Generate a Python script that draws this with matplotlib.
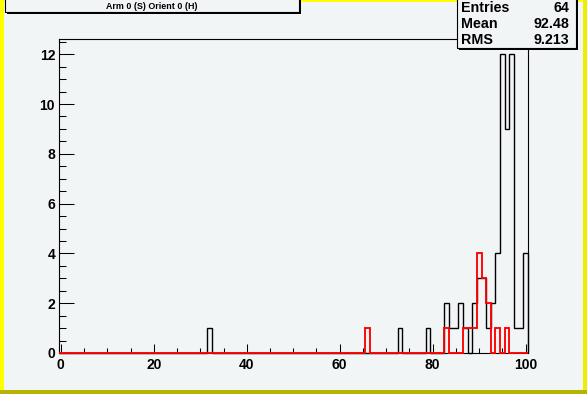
import numpy as np
import matplotlib
matplotlib.use("Agg")
import matplotlib.pyplot as plt
from matplotlib.patches import Rectangle
from matplotlib.ticker import FixedLocator, MultipleLocator

# ---------------- data ----------------
hist_lo = -0.5
hist_hi = 100.5
n_bins = 101
black_bins = [32, 73, 79, 83, 84, 85, 86, 87, 89, 90, 91, 92, 93, 94, 95, 96, 97, 98, 99, 100]
black_counts = [1, 1, 1, 2, 1, 1, 2, 1, 2, 3, 3, 1, 2, 4, 12, 9, 12, 1, 1, 4]
red_bins = [66, 83, 87, 88, 89, 90, 91, 92, 94, 96]
red_counts = [1, 1, 1, 1, 1, 4, 3, 2, 1, 1]
title_text = "Arm 0 (S) Orient 0 (H)"
stats_labels = ["Entries", "Mean", "RMS"]
stats_values = ["64", "92.48", "9.213"]
x_ticks = [0, 20, 40, 60, 80, 100]
y_ticks = [0, 2, 4, 6, 8, 10, 12]
y_max = 12.6

# ---------------- figure ----------------
W, H = 587, 394
BG = "#f2f5f6"
fig = plt.figure(figsize=(W / 100, H / 100), dpi=100, facecolor=BG)


def fx(x):
    return x / W


def fy(y):
    return 1 - y / H


def prect(x0, y0, x1, y1, **kw):
    # rectangle in pixel coords (y downwards)
    r = Rectangle((fx(x0), fy(y1)), fx(x1) - fx(x0), fy(y0) - fy(y1),
                  transform=fig.transFigure, **kw)
    fig.patches.append(r)
    return r


# canvas border
prect(0, 0, 3.5, H, facecolor="#ffff00", edgecolor="none", zorder=0)
prect(0, 0, W, 2, facecolor="#ffff00", edgecolor="none", zorder=0)
prect(W - 4, 0, W, H, facecolor="#eeee00", edgecolor="none", zorder=0)
prect(0, H - 4, W, H, facecolor="#b4b400", edgecolor="none", zorder=0)

# axes
ax_l, ax_r, ax_t, ax_b = 58.5, 528.0, 39.3, 353.0
ax = fig.add_axes([fx(ax_l), fy(ax_b), fx(ax_r) - fx(ax_l), fy(ax_t) - fy(ax_b)])
ax.set_facecolor(BG)

edges = np.linspace(hist_lo, hist_hi, n_bins + 1)
centers = 0.5 * (edges[:-1] + edges[1:])
black_full = np.zeros(n_bins)
red_full = np.zeros(n_bins)
for b, c in zip(black_bins, black_counts):
    black_full[np.argmin(np.abs(centers - b))] = c
for b, c in zip(red_bins, red_counts):
    red_full[np.argmin(np.abs(centers - b))] = c

ax.stairs(black_full, edges, color="black", lw=1.0, baseline=0, zorder=2, clip_on=False)
ax.stairs(red_full, edges, color="#ff0000", lw=1.35, baseline=0, zorder=3, clip_on=False)

ax.set_xlim(hist_lo, hist_hi)
ax.set_ylim(0, y_max)

for s in ax.spines.values():
    s.set_linewidth(0.8)
    s.set_color("black")

ax.xaxis.set_major_locator(FixedLocator(x_ticks))
ax.xaxis.set_minor_locator(MultipleLocator(5))
ax.yaxis.set_major_locator(FixedLocator(y_ticks))
ax.yaxis.set_minor_locator(MultipleLocator(0.5))
ax.tick_params(which="both", direction="in", top=False, right=False, width=0.75, colors="black")
ax.tick_params(axis="y", which="major", length=10.5, pad=2.5)
ax.tick_params(axis="y", which="minor", length=5.2)
ax.tick_params(axis="x", which="major", length=6.5, pad=3.5)
ax.tick_params(axis="x", which="minor", length=3.3)

tick_font = dict(family=["Liberation Sans", "DejaVu Sans"], weight="bold", size=10.0)
ax.set_xticks(x_ticks)
ax.set_xticklabels([str(v) for v in x_ticks], **tick_font)
ax.set_yticks(y_ticks)
ax.set_yticklabels([str(v) for v in y_ticks], **tick_font)

# title box (with shadow)
prect(7, -5, 301, 14, facecolor="black", edgecolor="none", zorder=5)
prect(5, -5, 299, 12, facecolor=BG, edgecolor="black", lw=0.8, zorder=6)
fig.text(fx(152), fy(6.5), title_text, ha="center", va="center",
         family=["Liberation Sans", "DejaVu Sans"], weight="bold", size=6.4, zorder=7)

# stats box (with shadow)
prect(459, -5, 578, 50, facecolor="black", edgecolor="none", zorder=5)
prect(457, -5, 576, 48, facecolor=BG, edgecolor="black", lw=0.8, zorder=6)
stat_font = dict(family=["Liberation Sans", "DejaVu Sans"], weight="bold", size=10.3, zorder=7)
row_y = [7.5, 24.0, 40.5]
for lab, val, yy in zip(stats_labels, stats_values, row_y):
    fig.text(fx(461), fy(yy), lab, ha="left", va="center", **stat_font)
    fig.text(fx(569), fy(yy), val, ha="right", va="center", **stat_font)

fig.savefig("out.png", dpi=100, facecolor=BG)
